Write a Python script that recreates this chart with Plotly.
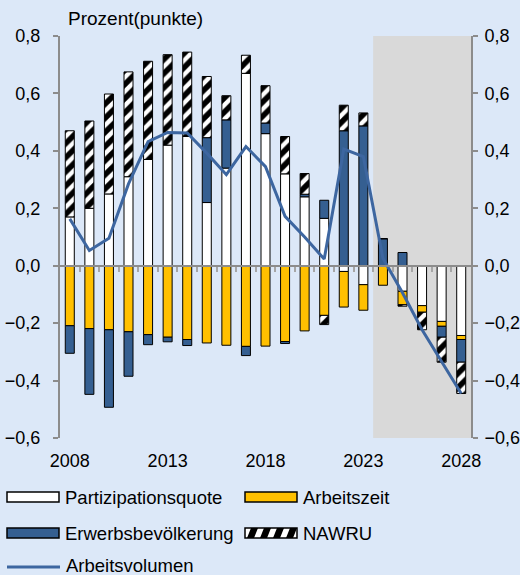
import plotly.graph_objects as go

years = list(range(2008, 2029))
tick_years = [2008, 2013, 2018, 2023, 2028]

partizipation = [0.17, 0.20, 0.25, 0.31, 0.37, 0.42, 0.45, 0.22, 0.34, 0.67, 0.46,
                 0.32, 0.24, 0.165, -0.02, -0.066, 0.0, -0.089, -0.139, -0.194, -0.243]
arbeitszeit = [-0.209, -0.219, -0.223, -0.23, -0.24, -0.249, -0.257, -0.269, -0.277, -0.281, -0.28,
               -0.264, -0.227, -0.173, -0.124, -0.089, -0.068, -0.047, -0.023, -0.017, -0.014]
erwerb = [-0.096, -0.229, -0.27, -0.155, -0.035, -0.016, -0.021, 0.226, 0.168, -0.032, 0.037,
          -0.007, 0.009, 0.063, 0.47, 0.487, 0.094, 0.046, 0.0, -0.038, -0.079]
nawru = [0.30, 0.304, 0.348, 0.365, 0.342, 0.315, 0.294, 0.213, 0.084, 0.063, 0.13,
         0.13, 0.072, -0.032, 0.089, 0.045, 0.0, -0.005, -0.061, -0.087, -0.109]
arbeitsvolumen = [0.163, 0.053, 0.096, 0.285, 0.432, 0.464, 0.462, 0.392, 0.317, 0.415, 0.345,
                  0.172, 0.10, 0.023, 0.406, 0.38, 0.026, -0.094, -0.223, -0.336, -0.445]

forecast_start = 2024

BG = "#DCE8F8"
GREY = "#8C8C8C"
ORANGE = "#FFC000"
BLUE = "#355F91"
LINE = "#3D66A0"
FONT = "Liberation Sans, Arial, sans-serif"

# plot area in pixels
W, H = 520, 575
L, R, T, B = 60, 49, 36, 137
PW, PH = W - L - R, H - T - B

def px(x):
    return (x - L) / PW

def py(y):
    return (H - B - y) / PH

fig = go.Figure()

bw = 0.46
fig.add_bar(x=years, y=partizipation, name="Partizipationsquote", width=bw,
            marker=dict(color="white", line=dict(color="black", width=1)), showlegend=False)
fig.add_bar(x=years, y=arbeitszeit, name="Arbeitszeit", width=bw,
            marker=dict(color=ORANGE, line=dict(color="black", width=1)), showlegend=False)
fig.add_bar(x=years, y=erwerb, name="Erwerbsbevölkerung", width=bw,
            marker=dict(color=BLUE, line=dict(color="black", width=1)), showlegend=False)
fig.add_bar(x=years, y=nawru, name="NAWRU", width=bw,
            marker=dict(color="white", line=dict(color="black", width=1),
                        pattern=dict(shape="/", fgcolor="black", bgcolor="white",
                                     fgopacity=1, size=10, solidity=0.55)), showlegend=False)
fig.add_scatter(x=years, y=arbeitsvolumen, name="Arbeitsvolumen", mode="lines",
                line=dict(color=LINE, width=3), showlegend=False)

# helper traces for overlay axes
fig.add_scatter(x=[years[0]], y=[0], xaxis="x2", mode="markers",
                marker=dict(opacity=0), showlegend=False, hoverinfo="skip")
fig.add_scatter(x=[years[0]], y=[0], yaxis="y2", mode="markers",
                marker=dict(opacity=0), showlegend=False, hoverinfo="skip")

xr = [years[0] - 0.5, years[-1] + 0.5]
yr = [-0.6, 0.8]

# forecast shading
fig.add_shape(type="rect", xref="x", yref="paper", x0=forecast_start - 0.5, x1=years[-1] + 0.5,
              y0=0, y1=1, fillcolor="#D9D9D9", line=dict(width=0), layer="below")

axis_common = dict(range=yr, dtick=0.2, tickformat=".1f", showgrid=False, zeroline=False,
                   showline=True, linecolor=GREY, linewidth=2, ticks="outside", ticklen=5,
                   tickcolor=GREY, tickwidth=2, automargin=False,
                   tickfont=dict(size=18, color="black", family=FONT))

fig.update_layout(
    width=W, height=H,
    margin=dict(l=L, r=R, t=T, b=B, autoexpand=False),
    paper_bgcolor=BG, plot_bgcolor=BG,
    barmode="relative",
    separators=",.",
    font=dict(family=FONT, size=18, color="black"),
    xaxis=dict(range=xr, tickvals=tick_years, ticktext=[str(y) for y in tick_years],
               showgrid=False, zeroline=False, showline=False, ticks="outside", ticklen=6,
               tickcolor="rgba(0,0,0,0)", automargin=False, tickfont=dict(size=18, family=FONT)),
    xaxis2=dict(overlaying="x", matches="x", range=xr, anchor="free",
                position=(0 - yr[0]) / (yr[1] - yr[0]), automargin=False,
                tickvals=[y + 0.5 for y in years[:-1]], showticklabels=False,
                showgrid=False, zeroline=False, showline=True, linecolor=GREY, linewidth=2,
                ticks="outside", ticklen=5, tickcolor="#A6A6A6", tickwidth=2),
    yaxis=dict(side="left", ticklabelstandoff=9, **axis_common),
    yaxis2=dict(side="right", overlaying="y", matches="y", ticklabelstandoff=3, **axis_common),
)

fig.add_annotation(text="Prozent(punkte)", xref="paper", yref="paper", x=px(66), y=py(18),
                   xanchor="left", yanchor="middle", showarrow=False,
                   font=dict(size=19, family=FONT))

# manual legend
legend_items = [
    ("Partizipationsquote", "white", 7, 497),
    ("Arbeitszeit", ORANGE, 245, 497),
    ("Erwerbsbevölkerung", BLUE, 7, 533),
    ("NAWRU", "hatch", 245, 533),
]
iw, ih = 52, 10
for name, col, x0, yc in legend_items:
    fill = "white" if col == "hatch" else col
    fig.add_shape(type="rect", xref="paper", yref="paper",
                  x0=px(x0), x1=px(x0 + iw), y0=py(yc - ih / 2), y1=py(yc + ih / 2),
                  fillcolor=fill, line=dict(color="black", width=1.5))
    if col == "hatch":
        step = 13
        for k in range(4):
            a = x0 + 2 + k * step
            path = (f"M {px(a)} {py(yc + ih/2)} L {px(a + 7)} {py(yc + ih/2)} "
                    f"L {px(a + 11)} {py(yc - ih/2)} L {px(a + 4)} {py(yc - ih/2)} Z")
            fig.add_shape(type="path", xref="paper", yref="paper", path=path,
                          fillcolor="black", line=dict(width=0))
    fig.add_annotation(text=name, xref="paper", yref="paper", x=px(x0 + iw + 4), y=py(yc),
                       xanchor="left", yanchor="middle", showarrow=False,
                       font=dict(size=18.5, family=FONT))

fig.add_shape(type="line", xref="paper", yref="paper", x0=px(7), x1=px(60),
              y0=py(567), y1=py(567), line=dict(color=LINE, width=3))
fig.add_annotation(text="Arbeitsvolumen", xref="paper", yref="paper", x=px(64), y=py(565),
                   xanchor="left", yanchor="middle", showarrow=False,
                   font=dict(size=18.5, family=FONT))

fig.write_html("out.html", config={"displayModeBar": False},
               post_script="document.body.style.margin='0';document.body.style.overflow='hidden';")
